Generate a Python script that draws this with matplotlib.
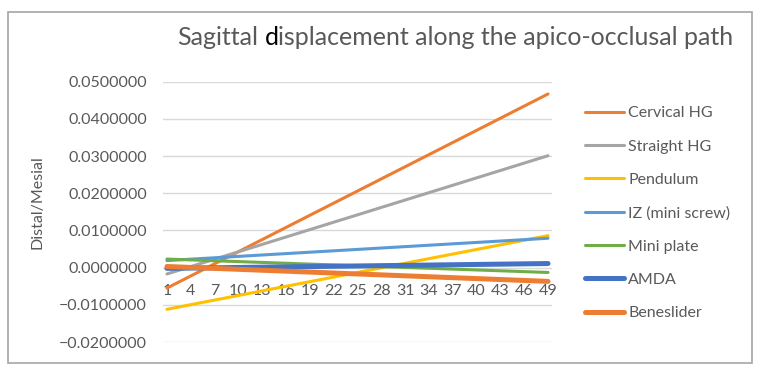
import matplotlib
matplotlib.use("Agg")
import matplotlib.pyplot as plt
from matplotlib.patches import Rectangle
from matplotlib.ticker import FuncFormatter

plt.rcParams['font.family'] = ['Lato', 'DejaVu Sans']

# data: straight-line series, read at the first and last sample (1 and 49)
x_points = [1, 49]
cervical_hg = [-0.0055, 0.0467]
straight_hg = [-0.0017, 0.0301]
pendulum = [-0.0112, 0.0086]
iz_mini_screw = [0.0019, 0.0079]
mini_plate = [0.0023, -0.0013]
amda = [-0.0002, 0.0011]
beneslider = [0.0003, -0.0037]

series_names = ['Cervical HG', 'Straight HG', 'Pendulum', 'IZ (mini screw)',
                'Mini plate', 'AMDA', 'Beneslider']
series_values = [cervical_hg, straight_hg, pendulum, iz_mini_screw,
                 mini_plate, amda, beneslider]
series_colors = ['#ED7D31', '#A5A5A5', '#FFC000', '#5B9BD5',
                 '#70AD47', '#4472C4', '#ED7D31']
series_widths = [2.2, 2.2, 2.2, 2.2, 2.2, 3.6, 3.6]

x_tick_values = [1, 4, 7, 10, 13, 16, 19, 22, 25, 28, 31, 34, 37, 40, 43, 46, 49]
y_tick_values = [-0.02, -0.01, 0.0, 0.01, 0.02, 0.03, 0.04, 0.05]

title_parts = ["Sagittal", "d", "isplacement along the apico-occlusal path"]
y_label = "Distal/Mesial"

TEXT_GRAY = '#595959'
W, H = 761, 373
FS = 11.5

fig = plt.figure(figsize=(W / 100, H / 100), dpi=100)
ax = fig.add_axes([163 / W, 1 - 342 / H, (552 - 163) / W, (342 - 81.7) / H])

for name, vals, col, lw in zip(series_names, series_values, series_colors, series_widths):
    ax.plot(x_points, vals, color=col, lw=lw, label=name, solid_capstyle='round')

ax.set_xlim(0.5, 49.5)
ax.set_ylim(-0.02, 0.05)
ax.set_yticks(y_tick_values)
ax.yaxis.set_major_formatter(FuncFormatter(
    lambda v, p: f"{v:.7f}".replace('-', '\u2212') if abs(v) > 1e-12 else "0.0000000"))
ax.set_xticks(x_tick_values)
ax.set_xticklabels([str(v) for v in x_tick_values])

ax.grid(axis='y', color='#D9D9D9', lw=1.0)
ax.set_axisbelow(True)
for s in ['top', 'right', 'left']:
    ax.spines[s].set_visible(False)
ax.spines['bottom'].set_position(('data', 0))
ax.spines['bottom'].set_visible(False)
ax.tick_params(axis='y', length=0, pad=11.5, labelsize=FS, labelcolor=TEXT_GRAY)
ax.tick_params(axis='x', length=0, pad=12, labelsize=FS, labelcolor=TEXT_GRAY)

fig.text(38 / W, 1 - 202 / H, y_label, rotation=90, ha='center', va='center',
         fontsize=FS, color=TEXT_GRAY)

leg = ax.legend(loc='upper left', bbox_to_anchor=(585 / W, 1 - 106 / H),
                bbox_transform=fig.transFigure, frameon=False, borderpad=0,
                borderaxespad=0, handlelength=2.45, handletextpad=0.25,
                labelspacing=1.2, fontsize=FS)
for t in leg.get_texts():
    t.set_color(TEXT_GRAY)

# title in three pieces so the "d" of "displacement" can be black as in the original
tx, ty = 177 / W, 1 - 45 / H
fs = 18
r = fig.canvas.get_renderer()


def ink_width(s):
    t = fig.text(0, 0, s, fontsize=fs)
    w = t.get_window_extent(r).width
    t.remove()
    return w


x_d = tx + (ink_width(title_parts[0] + " " + title_parts[1]) - ink_width(title_parts[1])) / W
x_rest = x_d + (ink_width(title_parts[1] + title_parts[2]) - ink_width(title_parts[2])) / W
fig.text(tx, ty, title_parts[0], fontsize=fs, color=TEXT_GRAY, ha='left', va='baseline')
fig.text(x_d, ty, title_parts[1], fontsize=fs, color='black', ha='left', va='baseline')
fig.text(x_rest, ty, title_parts[2], fontsize=fs, color=TEXT_GRAY, ha='left', va='baseline')

fig.patches.append(Rectangle((7.5 / W, 10 / H), (752 - 7.5) / W, (361 - 10) / H,
                             transform=fig.transFigure, fill=False,
                             edgecolor='#A6A6A6', lw=1.2))

fig.savefig('out.png', dpi=100)
